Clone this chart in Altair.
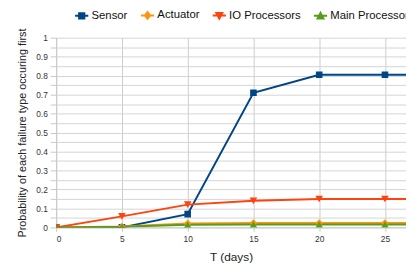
import altair as alt
import pandas as pd

days = [0, 5, 10, 15, 20, 25, 30]
series_names = ["Sensor", "Actuator", "IO Processors", "Main Processor"]
sensor = [0.0, 0.0, 0.07, 0.71, 0.805, 0.805, 0.805]
actuator = [0.0, 0.005, 0.021, 0.023, 0.023, 0.023, 0.023]
io_proc = [0.0, 0.058, 0.12, 0.14, 0.15, 0.15, 0.15]
main_proc = [0.0, 0.003, 0.014, 0.015, 0.015, 0.015, 0.015]
colors = ["#004586", "#ff950e", "#ff420e", "#579d1c"]
marker_shapes = ["square", "diamond", "triangle-down", "triangle-up"]
legend_shapes = [
    "M-1,0H1M-0.4,-0.4H0.4V0.4H-0.4Z",
    "M-1,0H1M0,-0.5L0.4,0L0,0.5L-0.4,0Z",
    "M-1,0H1M-0.45,-0.4H0.45L0,0.45Z",
    "M-1,0H1M-0.45,0.4H0.45L0,-0.45Z",
]
y_ticks = [round(i * 0.05, 2) for i in range(21)]
x_ticks = [0, 5, 10, 15, 20, 25]

rows = []
for name, vals in zip(series_names, [sensor, actuator, io_proc, main_proc]):
    for d, v in zip(days, vals):
        rows.append({"T": d, "p": v, "series": name})
df = pd.DataFrame(rows)

x = alt.X("T:Q", scale=alt.Scale(domain=[0, 26.6], nice=False),
          axis=alt.Axis(values=x_ticks, title="T (days)", labelFontSize=8.5,
                        labelColor="#333", titleFontSize=12, titleFontWeight="normal",
                        titleColor="#222", titlePadding=9, tickSize=4, tickColor="#c8c8c8",
                        domainColor="#c8c8c8", gridColor="#cccccc", labelPadding=3))
y = alt.Y("p:Q", scale=alt.Scale(domain=[0, 1], nice=False),
          axis=alt.Axis(values=y_ticks, title="Probability of each failure type occuring first",
                        labelExpr="round(datum.value*20) % 2 == 0 ? format(datum.value, '~g') : ''",
                        labelOverlap=False,
                        labelFontSize=8.5, labelColor="#333", titleFontSize=11,
                        titleFontWeight="normal", titleColor="#222", titlePadding=8,
                        tickSize=6, tickColor="#c8c8c8", domainColor="#c8c8c8",
                        gridColor="#d4d4d4", labelPadding=3))

legend_df = pd.DataFrame({"T": [-10] * 4, "p": [-1] * 4, "series": series_names})
leg = alt.Legend(title=None, orient="none", legendX=18, legendY=-31, direction="horizontal")
legend_layer = alt.Chart(legend_df).mark_point(clip=True, filled=True, strokeWidth=2, opacity=1).encode(
    x=x, y=y,
    fill=alt.Fill("series:N", scale=alt.Scale(domain=series_names, range=colors), legend=leg),
    stroke=alt.Stroke("series:N", scale=alt.Scale(domain=series_names, range=colors), legend=leg),
    shape=alt.Shape("series:N", scale=alt.Scale(domain=series_names, range=legend_shapes), legend=leg),
)

layers = [legend_layer]
for name, col in zip(series_names, colors):
    layers.append(
        alt.Chart(df).transform_filter(alt.datum.series == name)
        .mark_line(strokeWidth=2, clip=True, color=col)
        .encode(x=x, y=y, order=alt.Order("T:Q"))
    )
for name, col, shp in zip(series_names, colors, marker_shapes):
    sz = 45 if shp == "square" else 60
    layers.append(
        alt.Chart(df).transform_filter(alt.datum.series == name)
        .mark_point(filled=True, shape=shp, color=col, size=sz, opacity=1, clip=True)
        .encode(x=x, y=y)
    )

chart = alt.layer(*layers).properties(
    width=356, height=193,
    autosize=alt.AutoSizeParams(type="none"),
    padding={"left": 49, "top": 28, "right": 0, "bottom": 34},
).configure_legend(
    labelFont="Liberation Sans", labelFontSize=11.5, labelColor="#111",
    symbolSize=180, symbolStrokeWidth=2, columnPadding=9, labelOffset=2, padding=0,
).configure_axis(
    labelFont="Liberation Sans", titleFont="Liberation Sans",
).configure_view(stroke=None)

chart.save("out.html", embed_options={"renderer": "svg", "actions": False})
